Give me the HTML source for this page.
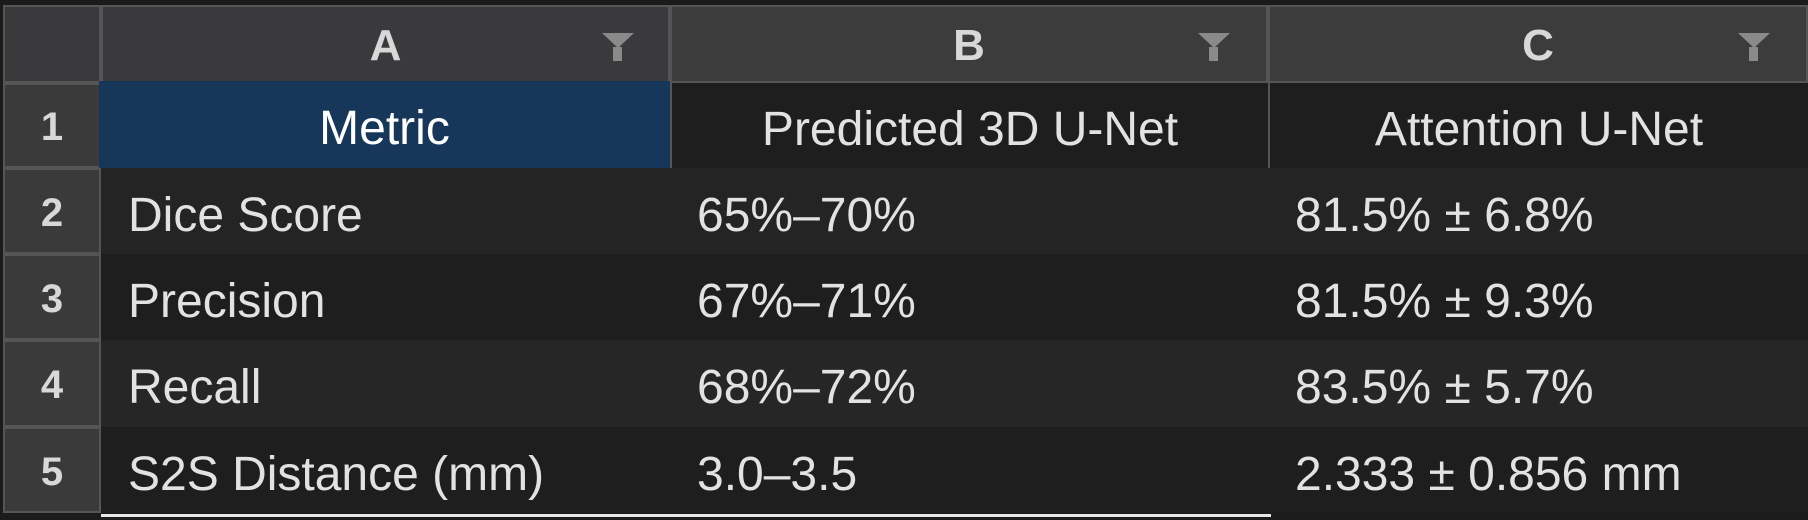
<!DOCTYPE html>
<html><head><meta charset="utf-8"><style>
body{margin:0;width:1808px;height:520px;background:#1b1b1b;overflow:hidden;font-family:"Liberation Sans",sans-serif;position:relative}
.c{position:absolute;box-sizing:border-box;display:flex;align-items:center;white-space:nowrap}
.h{background:#3a3a3d;border:2px solid #555;justify-content:center;color:#d8d8d8;font-weight:bold;font-size:44px;padding-top:4px}
.rn{background:#3a3a3a;border:2px solid #555;justify-content:center;color:#d8d8d8;font-weight:bold;font-size:40px;padding-top:4px}
.d{color:#e2e2e2;font-size:48px;padding-left:27px;padding-top:8px}
.f{position:absolute;top:33px;width:0;height:0;border-left:16px solid transparent;border-right:16px solid transparent;border-top:15px solid #8a8a8a}
.fs{position:absolute;top:47px;width:9px;height:14px;background:#8a8a8a}
</style></head><body>
<div class="c h" style="left:3px;top:5px;width:98px;height:78px"></div>
<div class="c h" style="left:101px;top:5px;width:569px;height:78px">A</div>
<div class="c h" style="left:670px;top:5px;width:598px;height:78px;background:#3c3c3c">B</div>
<div class="c h" style="left:1268px;top:5px;width:540px;height:78px;background:#3c3c3c">C</div>
<div class="f" style="left:602px"></div><div class="fs" style="left:613px"></div>
<div class="f" style="left:1198px"></div><div class="fs" style="left:1209px"></div>
<div class="f" style="left:1738px"></div><div class="fs" style="left:1749px"></div>

<div class="c rn" style="left:3px;top:83px;width:98px;height:85px">1</div>
<div class="c rn" style="left:3px;top:168px;width:98px;height:86px">2</div>
<div class="c rn" style="left:3px;top:254px;width:98px;height:86px">3</div>
<div class="c rn" style="left:3px;top:340px;width:98px;height:87px">4</div>
<div class="c rn" style="left:3px;top:427px;width:98px;height:86px">5</div>

<div class="c d" style="left:99px;top:81px;width:571px;height:87px;background:#17375a;justify-content:center;padding-left:0;color:#fff">Metric</div>
<div class="c d" style="left:670px;top:83px;width:598px;height:85px;background:#1e1e1e;justify-content:center;padding-left:0;border-left:2px solid #555">Predicted 3D U-Net</div>
<div class="c d" style="left:1268px;top:83px;width:540px;height:85px;background:#1e1e1e;justify-content:center;padding-left:0;border-left:2px solid #555">Attention U-Net</div>

<div style="position:absolute;left:101px;top:168px;width:1707px;height:86px;background:#242424"></div>
<div style="position:absolute;left:101px;top:254px;width:1707px;height:86px;background:#1e1e1e"></div>
<div style="position:absolute;left:101px;top:340px;width:1707px;height:87px;background:#262626"></div>
<div style="position:absolute;left:101px;top:427px;width:1707px;height:86px;background:#1e1e1e"></div>

<div class="c d" style="left:101px;top:168px;height:86px">Dice Score</div>
<div class="c d" style="left:670px;top:168px;height:86px">65%–70%</div>
<div class="c d" style="left:1268px;top:168px;height:86px">81.5% ± 6.8%</div>
<div class="c d" style="left:101px;top:254px;height:86px">Precision</div>
<div class="c d" style="left:670px;top:254px;height:86px">67%–71%</div>
<div class="c d" style="left:1268px;top:254px;height:86px">81.5% ± 9.3%</div>
<div class="c d" style="left:101px;top:340px;height:87px">Recall</div>
<div class="c d" style="left:670px;top:340px;height:87px">68%–72%</div>
<div class="c d" style="left:1268px;top:340px;height:87px">83.5% ± 5.7%</div>
<div class="c d" style="left:101px;top:427px;height:86px">S2S Distance (mm)</div>
<div class="c d" style="left:670px;top:427px;height:86px">3.0–3.5</div>
<div class="c d" style="left:1268px;top:427px;height:86px">2.333 ± 0.856 mm</div>
<div style="position:absolute;left:101px;top:514px;width:1170px;height:3px;background:#e8e8e8"></div>
</body></html>
